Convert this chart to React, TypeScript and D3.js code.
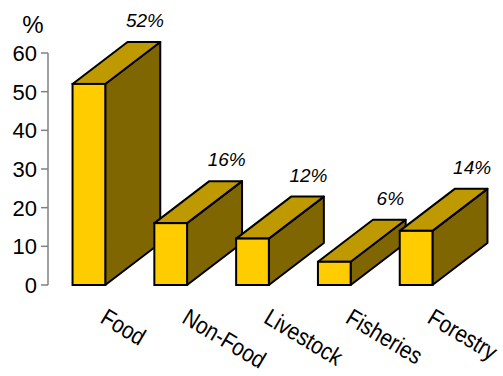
import React from "react";
import * as d3 from "d3";

const categories = ["Food", "Non-Food", "Livestock", "Fisheries", "Forestry"];
const values = [52, 16, 12, 6, 14];
const valueLabels = ["52%", "16%", "12%", "6%", "14%"];
const yTicks = [0, 10, 20, 30, 40, 50, 60];

const W = 503;
const H = 376;
const FRONT = "#FFCC00";
const TOP = "#BF9900";
const SIDE = "#806600";
const DX = 55;
const DY = 42;

export default function App() {
  const y = d3.scaleLinear().domain([0, 60]).range([285, 53]);
  const x = d3.scaleBand<string>().domain(categories).range([48, 457]).padding(0);
  const bw = x.bandwidth();
  const font = "Liberation Sans, Arial, sans-serif";

  return (
    <svg width={W} height={H} style={{ position: "absolute", left: 0, top: 0, background: "#fff" }}>
      <line x1={48} x2={48} y1={y(60)} y2={y(0)} stroke="#808080" strokeWidth={1.5} />
      {yTicks.map((t) => (
        <g key={t}>
          <line x1={41} x2={48} y1={y(t)} y2={y(t)} stroke="#808080" strokeWidth={1.5} />
          <text x={37} y={y(t) + 8} textAnchor="end" fontFamily={font} fontSize={22} fill="#000">
            {t}
          </text>
        </g>
      ))}
      <text x={33} y={33} textAnchor="middle" fontFamily={font} fontSize={24} fill="#000">%</text>

      {categories.map((c, i) => {
        const x0 = (x(c) as number) + bw * 0.3;
        const x1 = x0 + bw * 0.4;
        const yt = y(values[i]);
        const yb = y(0);
        const side = `M${x1},${yt}L${x1 + DX},${yt - DY}L${x1 + DX},${yb - DY}L${x1},${yb}Z`;
        const top = `M${x0},${yt}L${x0 + DX},${yt - DY}L${x1 + DX},${yt - DY}L${x1},${yt}Z`;
        return (
          <g key={c}>
            <path d={side} fill={SIDE} stroke="#000" strokeWidth={2} strokeLinejoin="round" />
            <path d={top} fill={TOP} stroke="#000" strokeWidth={2} strokeLinejoin="round" />
            <rect x={x0} y={yt} width={x1 - x0} height={yb - yt} fill={FRONT} stroke="#000" strokeWidth={2} />
            <text
              x={(x0 + x1) / 2 + DX + 1}
              y={yt - DY - 15}
              textAnchor="middle"
              fontFamily={font}
              fontStyle="italic"
              fontSize={19}
              fill="#000"
            >
              {valueLabels[i]}
            </text>
            <text
              transform={`translate(${(x0 + x1) / 2 + 10},322) rotate(31) scale(0.86,1)`}
              fontFamily={font}
              fontSize={24}
              fill="#000"
            >
              {c}
            </text>
          </g>
        );
      })}
    </svg>
  );
}
